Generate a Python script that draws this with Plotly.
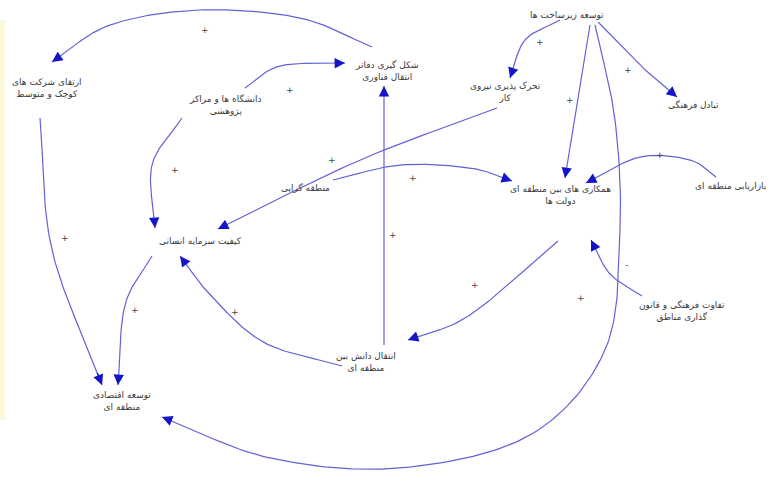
import numpy as np
import plotly.graph_objects as go

# ---- data: causal loop diagram ----
node_labels = [
    "ارتقای شرکت های<br>کوچک و متوسط",
    "دانشگاه ها و مراکز<br>پژوهشی",
    "شکل گیری دفاتر<br>انتقال فناوری",
    "تحرک پذیری نیروی<br>کار",
    "توسعه زیرساخت ها",
    "تبادل فرهنگی",
    "منطقه گرایی",
    "همکاری های بین منطقه ای<br>دولت ها",
    "بازاریابی منطقه ای",
    "کیفیت سرمایه انسانی",
    "تفاوت فرهنگی و قانون<br>گذاری مناطق",
    "انتقال دانش بین<br>منطقه ای",
    "توسعه اقتصادی<br>منطقه ای",
]
edge_source = [2, 1, 1, 3, 4, 4, 4, 4, 6, 8, 10, 7, 11, 11, 9, 0]
edge_target = [0, 2, 9, 9, 3, 5, 7, 12, 7, 7, 7, 11, 2, 9, 12, 12]
edge_sign = ["+", "+", "+", "+", "+", "+", "+", "+", "+", "+", "-", "+", "+", "+", "+", "+"]

# ---- layout geometry (pixel space) ----
node_pos = [
    (47, 88), (225, 104), (387, 70), (505, 92), (567, 15), (693, 104),
    (305, 187), (560, 195), (730, 186), (200, 241), (682, 310),
    (366, 362), (122, 401),
]
edge_paths = [
    [(372, 47), (300, 18), (200, 10), (110, 25), (52, 62)],
    [(245, 88), (280, 66), (345, 63)],
    [(182, 118), (152, 165), (155, 228)],
    [(497, 108), (360, 160), (218, 229)],
    [(560, 20), (525, 40), (510, 78)],
    [(598, 22), (640, 65), (677, 97)],
    [(590, 25), (578, 100), (565, 178)],
    [(595, 25), (615, 120), (620, 230), (605, 350), (530, 435), (400, 468),
     (270, 458), (162, 417)],
    [(333, 180), (400, 165), (470, 168), (512, 181)],
    [(716, 177), (690, 160), (640, 157), (586, 183)],
    [(642, 296), (610, 274), (591, 240)],
    [(558, 241), (470, 315), (408, 340)],
    [(384, 345), (384, 200), (384, 86)],
    [(342, 366), (265, 343), (213, 298), (180, 256)],
    [(152, 256), (125, 305), (118, 385)],
    [(40, 118), (52, 250), (102, 385)],
]
sign_pos = [
    (205, 30), (290, 90), (175, 170), (332, 160), (540, 42), (628, 70),
    (570, 100), (581, 298), (413, 178), (660, 155), (626, 265), (475, 285),
    (393, 235), (235, 312), (135, 310), (65, 238),
]

LINE = "#6262d6"
HEAD = "#1414c8"
TXT = "#3a3a3a"


def catmull(pts, n=30):
    p = np.array(pts, dtype=float)
    p = np.vstack([p[0] * 2 - p[1], p, p[-1] * 2 - p[-2]])
    out = []
    for i in range(1, len(p) - 2):
        p0, p1, p2, p3 = p[i - 1], p[i], p[i + 1], p[i + 2]
        for t in np.linspace(0, 1, n, endpoint=False):
            t2, t3 = t * t, t * t * t
            out.append(0.5 * ((2 * p1) + (-p0 + p2) * t +
                              (2 * p0 - 5 * p1 + 4 * p2 - p3) * t2 +
                              (-p0 + 3 * p1 - 3 * p2 + p3) * t3))
    out.append(p[-2])
    return np.array(out)


fig = go.Figure()
annotations = []

for k in range(len(edge_source)):
    c = catmull(edge_paths[k])
    fig.add_trace(go.Scatter(x=c[:, 0], y=c[:, 1], mode="lines",
                             line=dict(color=LINE, width=1.2),
                             hoverinfo="skip", showlegend=False))
    end = c[-1]
    d = np.cumsum(np.r_[0, np.hypot(*np.diff(c[::-1], axis=0).T)])
    idx = np.searchsorted(d, 10)
    tail = c[::-1][min(idx, len(c) - 1)]
    annotations.append(dict(x=end[0], y=end[1], ax=tail[0], ay=tail[1],
                            xref="x", yref="y", axref="x", ayref="y",
                            showarrow=True, arrowhead=2, arrowsize=1.6,
                            arrowwidth=1.3, arrowcolor=HEAD, text="",
                            standoff=0, startstandoff=0))
    annotations.append(dict(x=sign_pos[k][0], y=sign_pos[k][1],
                            text=edge_sign[k], showarrow=False,
                            font=dict(size=9, color="#444444", family="DejaVu Sans")))

for lab, (x, y) in zip(node_labels, node_pos):
    annotations.append(dict(x=x, y=y, text=lab, showarrow=False,
                            font=dict(size=9, color=TXT, family="DejaVu Sans"),
                            align="center"))

fig.update_layout(
    width=771, height=487,
    margin=dict(l=0, r=0, t=0, b=0),
    paper_bgcolor="white", plot_bgcolor="white",
    xaxis=dict(range=[0, 771], visible=False, fixedrange=True),
    yaxis=dict(range=[487, 0], visible=False, fixedrange=True),
    annotations=annotations,
    shapes=[dict(type="rect", x0=0, x1=5, y0=20, y1=420, xref="x", yref="y",
                 line=dict(width=0), fillcolor="rgba(245,235,150,0.35)",
                 layer="below")],
)

fig.write_html("out.html", config={"displayModeBar": False},
               post_script="document.body.style.margin='0';")
